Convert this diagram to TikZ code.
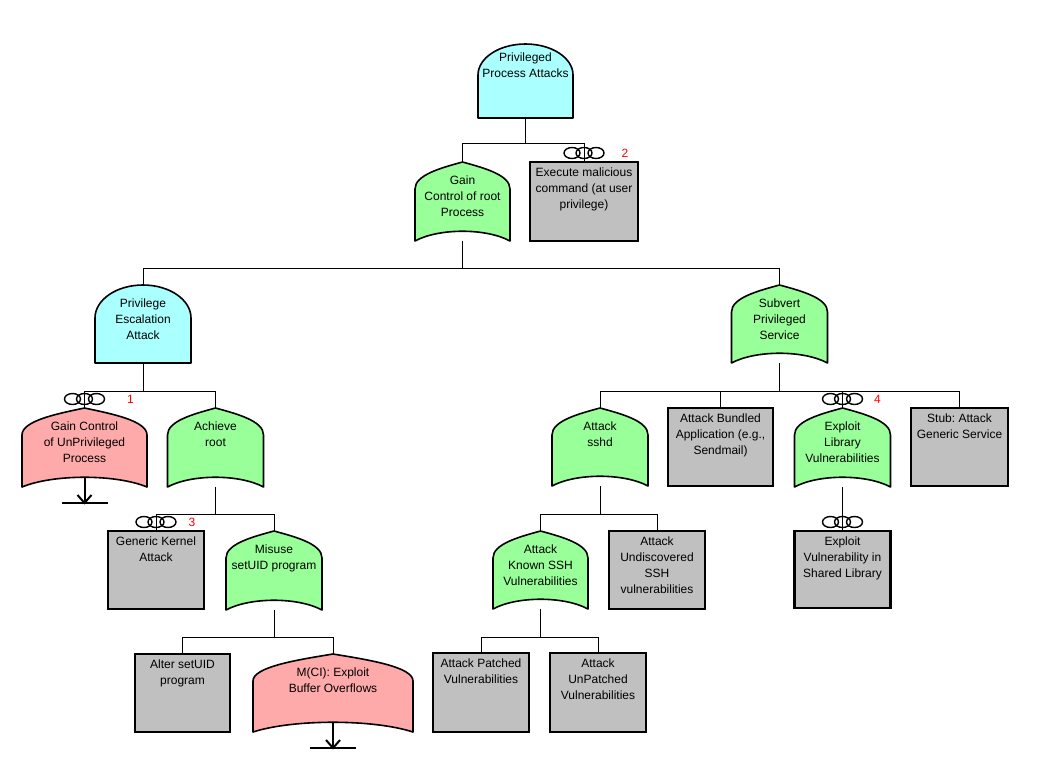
\documentclass[tikz,border=0pt]{standalone}
\usepackage{fontspec}
\setmainfont{Liberation Sans}
\usetikzlibrary{calc}
\frenchspacing
\pgfdeclarelayer{lines}
\pgfdeclarelayer{shapes}
\pgfsetlayers{lines,shapes,main}
\definecolor{andcyan}{HTML}{AAFFFF}
\definecolor{orgreen}{HTML}{99FF99}
\definecolor{orpink}{HTML}{FFAAAA}
\definecolor{boxgray}{HTML}{C0C0C0}

\newcommand{\gtext}[4]{\parbox[c][#2][t]{#1}{\centering\frenchspacing\rule{0pt}{#3}#4\par}}

\tikzset{
 gatenode/.style={inner sep=0pt, outer sep=0pt, anchor=north, font=\fontsize{12}{16}\selectfont},
 boxnode/.style={gatenode, draw=black, line width=2.5pt, fill=boxgray},
 gateline/.style={draw=black, line width=1.6pt, line join=round},
 conn/.style={draw=black, line width=1pt},
 ringline/.style={draw=black, line width=1.4pt},
 numlabel/.style={text=red, font=\fontsize{12}{14}\selectfont, inner sep=0pt},
 xferline/.style={draw=black, line width=2pt},
}

% name, cx, top, w, h, text offset, text
\newcommand{\gatebox}[7]{\node[gatenode] (#1) at (#2,-#3) {\gtext{#4pt}{#5pt}{#6pt}{#7}};}
% name, cx, top, w, h, text
\newcommand{\boxn}[6]{\node[boxnode] (#1) at (#2,-#3) {\gtext{#4pt}{#5pt}{14pt}{#6}};}

\newcommand{\orshape}[2]{%
 \begin{pgfonlayer}{shapes}
 \path[gateline, fill=#2] let \p1=(#1.north west), \p2=(#1.south east), \p3=(#1.north), \n1={0.23*(\x2-\x1)} in
 (\x1,\y2) -- (\x1,\y1-27pt) .. controls (\x1,\y1-13pt) and (\x3-\n1,\y1-6pt) .. (\x3,\y1)
 .. controls (\x3+\n1,\y1-6pt) and (\x2,\y1-13pt) .. (\x2,\y1-27pt) -- (\x2,\y2)
 .. controls ({\x2-0.25*(\x2-\x1)},\y2+13pt) and ({\x1+0.25*(\x2-\x1)},\y2+13pt) .. (\x1,\y2) -- cycle;
 \end{pgfonlayer}}

\newcommand{\andshape}[3]{%
 \begin{pgfonlayer}{shapes}
 \path[gateline, fill=#2] let \p1=(#1.north west), \p2=(#1.south east), \n1={0.5*(\x2-\x1)} in
 (\x1,\y2) -- (\x1,\y1-#3pt) arc[start angle=180, end angle=0, x radius=\n1, y radius=#3pt] -- (\x2,\y2) -- cycle;
 \end{pgfonlayer}}

\newcommand{\rings}[1]{\foreach \dx in {-12,0,12}{\draw[ringline] ($(#1.north)+(\dx,9)$) ellipse[x radius=8, y radius=5.5];}}

\newcommand{\xfer}[1]{%
 \draw[xferline] ($(#1.south)+(0,9.5)$) -- ($(#1.south)+(0,-16)$);
 \draw[xferline] ($(#1.south)+(-23,-16)$) -- ($(#1.south)+(23,-16)$);
 \draw[xferline, line join=miter] ($(#1.south)+(-7,-8)$) -- ($(#1.south)+(0,-16)$) -- ($(#1.south)+(7,-8)$);}

\begin{document}
\begin{tikzpicture}[x=1pt,y=1pt]
\useasboundingbox (0,0) rectangle (1056,-766);
\begin{pgfonlayer}{lines}
\fill[white] (0,0) rectangle (1056,-766);
\end{pgfonlayer}

% top level
\gatebox{A0}{525.5}{44}{95}{74}{17}{Privileged\\Process Attacks}
\andshape{A0}{andcyan}{31}
\gatebox{G1}{462.5}{162}{95}{79}{22}{Gain\\Control of root\\Process}
\orshape{G1}{orgreen}
\boxn{B2}{584}{162}{108}{79}{Execute malicious\\command (at user\\privilege)}
\rings{B2}
\node[numlabel] (n2) at ($(B2.north)+(41,9)$) {2};

% second level
\gatebox{A3}{143}{285}{96}{78}{22}{Privilege\\Escalation\\Attack}
\andshape{A3}{andcyan}{33}
\gatebox{G4}{779.5}{285}{96}{78}{22}{Subvert\\Privileged\\Service}
\orshape{G4}{orgreen}

% left branch
\gatebox{P5}{84.5}{408}{125}{79}{22}{Gain Control\\of UnPrivileged\\Process}
\orshape{P5}{orpink}
\rings{P5}
\node[numlabel] (n1) at ($(P5.north)+(46,9)$) {1};
\xfer{P5}
\gatebox{G6}{215.5}{408}{96}{79}{22}{Achieve\\root}
\orshape{G6}{orgreen}
\boxn{B7}{156}{531}{96}{78}{Generic Kernel\\Attack}
\rings{B7}
\node[numlabel] (n3) at ($(B7.north)+(36,9)$) {3};
\gatebox{G8}{274}{531}{96}{79}{22}{Misuse\\setUID program}
\orshape{G8}{orgreen}
\boxn{B9}{182.5}{654}{95}{78}{Alter setUID\\program}
\gatebox{P10}{333}{654}{160}{78}{22}{M(CI): Exploit\\Buffer Overflows}
\orshape{P10}{orpink}
\xfer{P10}

% right branch
\gatebox{G11}{600}{408}{96}{78}{22}{Attack\\sshd}
\orshape{G11}{orgreen}
\boxn{B12}{720.5}{408}{105}{78}{Attack Bundled\\Application (e.g.,\\Sendmail)}
\gatebox{G13}{842.5}{408}{96}{79}{22}{Exploit\\Library\\Vulnerabilities}
\orshape{G13}{orgreen}
\rings{G13}
\node[numlabel] (n4) at ($(G13.north)+(35,9)$) {4};
\boxn{B14}{959.5}{408}{97}{78}{Stub: Attack\\Generic Service}
\boxn{B15}{842.5}{531}{96}{77}{Exploit\\Vulnerability in\\Shared Library}
\rings{B15}
\gatebox{G16}{540.5}{531}{95}{78}{22}{Attack\\Known SSH\\Vulnerabilities}
\orshape{G16}{orgreen}
\boxn{B17}{657}{531}{96}{78}{Attack\\Undiscovered\\SSH\\vulnerabilities}
\boxn{B18}{481}{653}{96}{79}{Attack Patched\\Vulnerabilities}
\boxn{B19}{598}{653}{96}{79}{Attack\\UnPatched\\Vulnerabilities}

% connectors
\begin{pgfonlayer}{lines}
\draw[conn] (A0.south) -- ++(0,-25) -| (G1.north);
\draw[conn] (A0.south) -- ++(0,-25) -| (B2.north);
\draw[conn] (G1.south) -- ++(0,-27) -| (A3.north);
\draw[conn] (G1.south) -- ++(0,-27) -| (G4.north);
\draw[conn] (A3.south) -- ++(0,-28) -| (P5.north);
\draw[conn] (A3.south) -- ++(0,-28) -| (G6.north);
\draw[conn] (G6.south) -- ++(0,-27) -| (B7.north);
\draw[conn] (G6.south) -- ++(0,-27) -| (G8.north);
\draw[conn] (G8.south) -- ++(0,-27) -| (B9.north);
\draw[conn] (G8.south) -- ++(0,-27) -| (P10.north);
\draw[conn] (G4.south) -- ++(0,-28) -| (G11.north);
\draw[conn] (G4.south) -- ++(0,-28) -| (B12.north);
\draw[conn] (G4.south) -- ++(0,-28) -| (G13.north);
\draw[conn] (G4.south) -- ++(0,-28) -| (B14.north);
\draw[conn] (G13.south) -- (B15.north);
\draw[conn] (G11.south) -- ++(0,-28) -| (G16.north);
\draw[conn] (G11.south) -- ++(0,-28) -| (B17.north);
\draw[conn] (G16.south) -- ++(0,-28) -| (B18.north);
\draw[conn] (G16.south) -- ++(0,-28) -| (B19.north);
\end{pgfonlayer}
\end{tikzpicture}
\end{document}
